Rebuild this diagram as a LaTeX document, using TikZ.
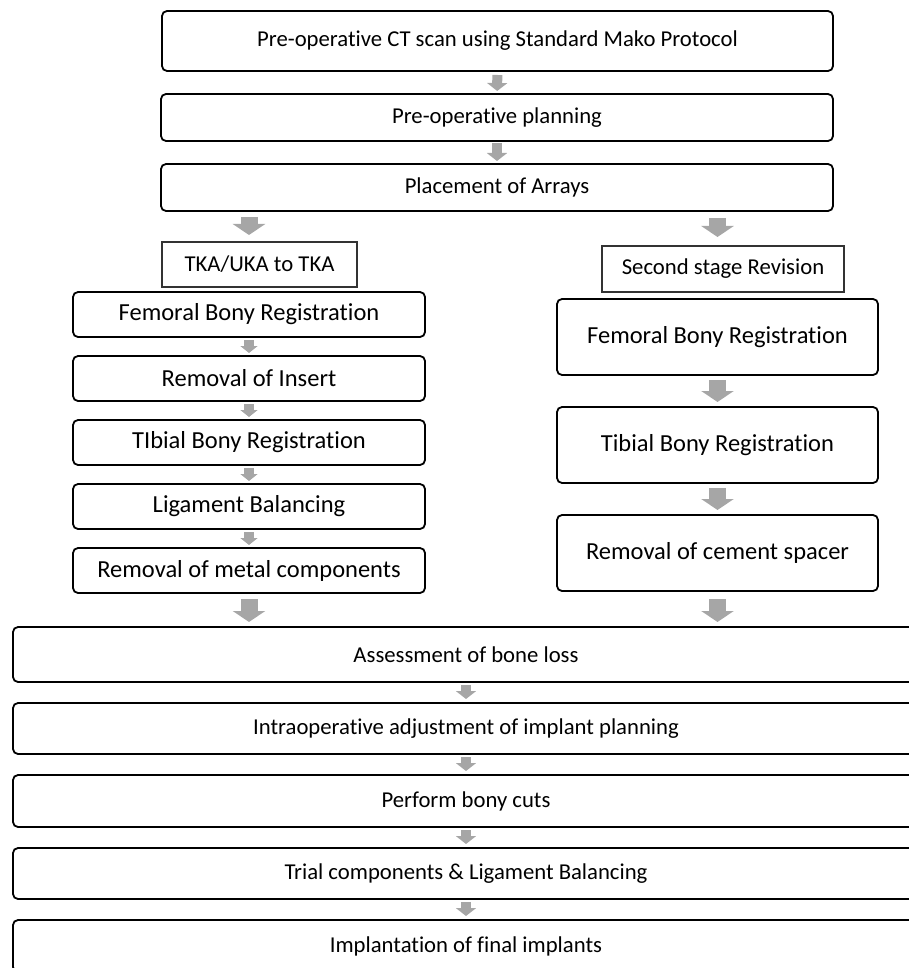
\documentclass[tikz,border=0pt]{standalone}
\usepackage{fontspec}
\setmainfont{Carlito}[Ligatures=NoCommon]
\usetikzlibrary{arrows.meta,positioning}
\definecolor{arrowgray}{HTML}{A6A6A6}

\begin{document}
\begin{tikzpicture}[x=1pt,y=1pt,
  box/.style={draw,rounded corners=5pt,line width=1.8pt,inner sep=0pt,outer sep=0pt,font=\fontsize{22.7}{27}\selectfont},
  colbox/.style={box,minimum height=45pt,font=\fontsize{24.5}{29}\selectfont},
  headbox/.style={draw=black!80,line width=1.3pt,inner sep=0pt,outer sep=0pt,font=\fontsize{22.7}{27}\selectfont},
  slimarrow/.style={color=arrowgray,line width=10pt,-{Triangle[width=20pt,length=8pt]}},
  leftarrow/.style={color=arrowgray,line width=10pt,-{Triangle[width=17pt,length=7pt]}},
  fatarrow/.style={color=arrowgray,line width=17pt,-{Triangle[width=32pt,length=11pt]}}]
  \path[use as bounding box,clip] (0,0) rectangle (909,-968);

  % common start
  \node[box,minimum width=671pt,minimum height=60pt] (ct) at (497.5,-41) {Pre-operative CT scan using Standard Mako Protocol};
  \node[box,minimum width=672pt,minimum height=47pt] (plan) at (497,-117.5) {Pre-operative planning};
  \node[box,minimum width=672pt,minimum height=47pt] (arrays) at (497,-187.5) {Placement of Arrays};

  % TKA/UKA branch
  \node[headbox,minimum width=195pt,minimum height=45pt] (tka) at (259.5,-264.5) {TKA/UKA to TKA};
  \node[colbox,minimum width=352pt] (lfem) at (249,-314.5) {Femoral Bony Registration};
  \node[colbox,minimum width=352pt,below=19pt of lfem] (lins) {Removal of Insert};
  \node[colbox,minimum width=352pt,below=19pt of lins] (ltib) {TIbial Bony Registration};
  \node[colbox,minimum width=352pt,below=19pt of ltib] (llig) {Ligament Balancing};
  \node[colbox,minimum width=352pt,below=19pt of llig] (lmet) {Removal of metal components};

  % revision branch
  \node[headbox,minimum width=242pt,minimum height=46pt] (rev) at (723,-269) {Second stage Revision};
  \node[colbox,minimum width=321pt,minimum height=76pt] (rfem) at (717.5,-337) {Femoral Bony Registration};
  \node[colbox,minimum width=321pt,minimum height=76pt,below=32pt of rfem] (rtib) {Tibial Bony Registration};
  \node[colbox,minimum width=321pt,minimum height=76pt,below=32pt of rtib] (rcem) {Removal of cement spacer};

  % common end
  \node[box,minimum width=906pt,minimum height=55pt] (assess) at (466,-654.5) {Assessment of bone loss};
  \node[box,minimum width=906pt,minimum height=51pt,below=21pt of assess] (intra) {Intraoperative adjustment of implant planning};
  \node[box,minimum width=906pt,minimum height=52pt,below=21pt of intra] (cuts) {Perform bony cuts};
  \node[box,minimum width=906pt,minimum height=51pt,below=21pt of cuts] (trial) {Trial components \& Ligament Balancing};
  \node[box,minimum width=906pt,minimum height=52pt,below=21pt of trial] (impl) {Implantation of final implants};

  \draw[slimarrow,shorten <=4pt,shorten >=3pt] (ct) -- (plan);
  \draw[slimarrow,shorten <=2pt,shorten >=3pt] (plan) -- (arrays);
  \draw[fatarrow,shorten <=6pt,shorten >=7pt] (arrays.south -| lfem.north) -- (tka.north -| lfem.north);
  \draw[fatarrow,shorten <=7pt,shorten >=9pt] (arrays.south -| rfem.north) -- (rev.north -| rfem.north);
  \foreach \a/\b in {lfem/lins,lins/ltib,ltib/llig,llig/lmet}
    \draw[leftarrow,shorten <=3pt,shorten >=3pt] (\a) -- (\b);
  \foreach \a/\b in {rfem/rtib,rtib/rcem}
    \draw[fatarrow,shorten <=5pt,shorten >=5pt] (\a) -- (\b);
  \draw[fatarrow,shorten <=6pt,shorten >=5pt] (lmet.south) -- (assess.north -| lmet.south);
  \draw[fatarrow,shorten <=8pt,shorten >=5pt] (rcem.south) -- (assess.north -| rcem.south);
  \foreach \a/\b in {assess/intra,intra/cuts,cuts/trial,trial/impl}
    \draw[slimarrow,shorten <=3pt,shorten >=4pt] (\a) -- (\b);
\end{tikzpicture}
\end{document}
